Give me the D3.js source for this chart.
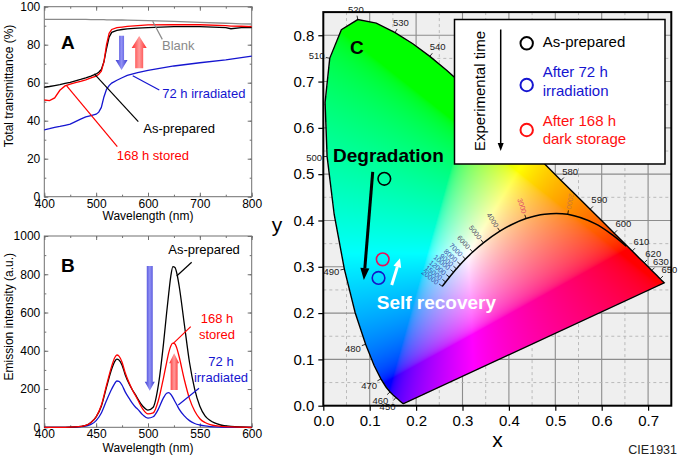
<!DOCTYPE html>
<html>
<head>
<meta charset="utf-8">
<script src="https://cdn.jsdelivr.net/npm/d3@7"></script>
<style>
html, body { margin: 0; padding: 0; background: #fff; }
svg { display: block; font-family: "Liberation Sans", Arial, sans-serif; }
</style>
</head>
<body>
<svg id="fig" width="680" height="458"></svg>
<script>
// ============================================================================
// DATA
// ============================================================================

// Panel A: total transmittance (%)
const transWave        = [400,410,420,430,440,450,460,470,480,490,500,505,510,515,520,525,530,540,550,560,580,600,650,700,750,760,780,800];
const transBlank       = [93.3,93.3,93.3,93.3,93.3,93.3,93.3,93.3,93.3,93.2,93.2,93.2,93.2,93.2,93.1,93.1,93.1,93.0,93.0,92.9,92.8,92.7,92.3,91.8,91.3,91.2,91.0,90.9];
const transAsPrepared  = [57.6,58.0,58.5,59.0,59.6,60.2,61.0,61.7,62.5,63.5,64.6,65.5,67.0,71.0,78.0,84.0,86.5,87.5,88.0,88.3,88.7,89.0,89.5,89.5,89.0,88.4,89.0,89.0];
const transStored      = [50.9,50.6,52.0,56.0,58.3,59.3,60.0,60.7,61.5,62.5,63.5,64.5,66.0,71.0,80.0,86.0,88.0,89.0,89.3,89.6,90.0,90.4,90.5,90.5,90.0,89.8,89.7,89.5];
const transIrradiated  = [35.2,35.8,36.5,37.0,37.6,38.2,39.5,40.8,42.0,42.7,43.4,44.5,47.0,52.5,56.5,58.5,59.8,61.3,62.6,63.8,65.3,66.5,68.8,70.5,72.0,72.4,73.2,74.0];
const transTicksX = [400, 500, 600, 700, 800];
const transTicksY = [0, 20, 40, 60, 80, 100];

// Panel B: emission intensity (a.u.)
const emisWave        = [400,420,430,440,445,450,455,460,465,468,470,472,475,478,482,485,488,490,495,500,505,510,515,518,520,522,524,526,528,530,535,540,545,550,555,560,570,580,600];
const emisAsPrepared  = [0,0,2,10,25,55,110,210,305,345,356,352,325,275,225,195,170,150,110,90,105,220,440,600,700,790,840,835,800,740,540,340,200,110,60,35,12,5,0];
const emisStored      = [0,0,2,10,25,55,115,220,320,365,378,372,340,285,230,195,165,145,95,70,75,140,260,340,390,425,440,435,410,370,250,150,85,45,25,14,5,2,0];
const emisIrradiated  = [0,0,1,6,15,35,75,140,200,230,242,240,220,185,150,125,105,95,65,48,55,95,155,178,181,172,155,135,115,95,60,35,20,12,7,4,1,0,0];
const emisTicksX = [400, 450, 500, 550, 600];
const emisTicksY = [0, 200, 400, 600, 800, 1000];

// Panel C: CIE 1931 spectral locus
const locusNm = [380,390,400,410,420,430,440,445,450,455,460,465,470,475,480,485,490,495,500,505,510,515,520,525,530,535,540,545,550,555,560,565,570,575,580,585,590,595,600,605,610,615,620,625,630,635,640,645,650,655,660,670,680,700];
const locusX  = [0.17411,0.17380,0.17330,0.17258,0.17141,0.16888,0.16441,0.16110,0.15664,0.15099,0.14396,0.13550,0.12412,0.10959,0.09121,0.06871,0.04539,0.02348,0.00817,0.00386,0.01387,0.03893,0.07430,0.11416,0.15472,0.19290,0.22962,0.26577,0.30160,0.33736,0.37310,0.40874,0.44406,0.47877,0.51249,0.54479,0.57515,0.60293,0.62704,0.64823,0.66576,0.68008,0.69150,0.70061,0.70792,0.71402,0.71903,0.72303,0.72599,0.72827,0.72997,0.73199,0.73342,0.73469];
const locusY  = [0.00496,0.00490,0.00480,0.00480,0.00510,0.00690,0.01089,0.01379,0.01771,0.02274,0.02970,0.03988,0.05780,0.08684,0.13270,0.20072,0.29498,0.41297,0.53842,0.65482,0.75019,0.81202,0.83380,0.82621,0.80586,0.78163,0.75433,0.72430,0.69231,0.65885,0.62445,0.58965,0.55472,0.52020,0.48659,0.45443,0.42423,0.39650,0.37249,0.35140,0.33401,0.31975,0.30849,0.29939,0.29208,0.28598,0.28097,0.27697,0.27401,0.27173,0.27003,0.26801,0.26658,0.26531];
const locusLabels = [450,460,470,480,490,500,510,520,530,540,580,590,600,610,620,630,650];

// Planckian locus (K)
const planckT = [20000,15000,12000,10000,9000,8000,7000,6000,5000,4000,3500,3000,2500,2000,1500,1200,1000];
const planckX = [0.2564,0.2637,0.2718,0.2807,0.2870,0.2952,0.3064,0.3220,0.3450,0.3805,0.4053,0.4369,0.4770,0.5267,0.5857,0.6251,0.6528];
const planckY = [0.2576,0.2672,0.2776,0.2883,0.2956,0.3048,0.3166,0.3318,0.3516,0.3768,0.3907,0.4041,0.4137,0.4133,0.3931,0.3674,0.3444];
const planckLabels = [20000,15000,12000,10000,9000,8000,7000,6000,5000,4000,3000,2000];

// Sample chromaticities
const sampleNames  = [["As-prepared"], ["After 72 h", "irradiation"], ["After 168 h", "dark storage"]];
const sampleX      = [0.1315, 0.119, 0.128];
const sampleY      = [0.490, 0.276, 0.316];
const sampleColors = ["#000000", "#1515c8", "#e8105a"];
const legendColors = ["#000000", "#1515d0", "#ff1010"];

const cTicksX = [0, 0.1, 0.2, 0.3, 0.4, 0.5, 0.6, 0.7];
const cTicksY = [0, 0.1, 0.2, 0.3, 0.4, 0.5, 0.6, 0.7, 0.8];

const BLUE = "#1515d0", RED = "#ff0000", GRAY = "#8a8a8a";

// ============================================================================
// SETUP
// ============================================================================

const svg  = d3.select("#fig");
const defs = svg.append("defs");

function hGrad(id, edge, mid) {
    const g = defs.append("linearGradient").attr("id", id)
        .attr("x1", 0).attr("x2", 1).attr("y1", 0).attr("y2", 0);
    g.append("stop").attr("offset", 0).attr("stop-color", edge);
    g.append("stop").attr("offset", 0.5).attr("stop-color", mid);
    g.append("stop").attr("offset", 1).attr("stop-color", edge);
}
hGrad("gBlue", "#3a3ad0", "#9090f4");
hGrad("gRed",  "#ff2a2a", "#ff9a9a");

function styleAxis(sel, size) {
    sel.select(".domain").remove();
    sel.selectAll("line").attr("stroke", "#707070");
    sel.selectAll("text").attr("fill", "#000").style("font-size", size + "px")
        .style("font-family", '"Liberation Sans", Arial, sans-serif');
}

// Spectrum frame with inward ticks on all four sides
function spectrumFrame(x, y, xMajor, yMajor, xStep, yStep) {
    const g = svg.append("g");
    const L = x.range()[0], R = x.range()[1], B = y.range()[0], T = y.range()[1];
    const xMinor = d3.range(x.domain()[0], x.domain()[1] + 1e-9, xStep / 2);
    const yMinor = d3.range(y.domain()[0], y.domain()[1] + 1e-9, yStep / 2);

    g.append("g").attr("transform", `translate(0,${B})`)
        .call(d3.axisBottom(x).tickValues(xMajor).tickSize(-4).tickPadding(2.5).tickFormat(d3.format("d")))
        .call(styleAxis, 12);
    g.append("g").attr("transform", `translate(${L},0)`)
        .call(d3.axisLeft(y).tickValues(yMajor).tickSize(-4).tickPadding(4).tickFormat(d3.format("d")))
        .call(styleAxis, 12);
    [[d3.axisBottom(x), B, xMinor], [d3.axisTop(x), T, xMajor], [d3.axisTop(x), T, xMinor]].forEach(([ax, pos, vals], i) => {
        g.append("g").attr("transform", `translate(0,${pos})`)
            .call(ax.tickValues(vals).tickSize(i === 1 ? -4 : -2).tickFormat(""))
            .call(styleAxis, 12);
    });
    [[d3.axisLeft(y), L, yMinor], [d3.axisRight(y), R, yMajor], [d3.axisRight(y), R, yMinor]].forEach(([ax, pos, vals], i) => {
        g.append("g").attr("transform", `translate(${pos},0)`)
            .call(ax.tickValues(vals).tickSize(i === 1 ? -4 : -2).tickFormat(""))
            .call(styleAxis, 12);
    });
    g.append("rect").attr("x", L).attr("y", T).attr("width", R - L).attr("height", B - T)
        .attr("fill", "none").attr("stroke", "#707070").attr("stroke-width", 1);
    return g;
}

function text(g, x, y, str, opts = {}) {
    return g.append("text").attr("x", x).attr("y", y)
        .attr("text-anchor", opts.anchor || "start")
        .attr("fill", opts.fill || "#000")
        .style("font-size", (opts.size || 13) + "px")
        .style("font-weight", opts.bold ? "bold" : "normal")
        .text(str);
}

function leader(g, x1, y1, x2, y2, color) {
    g.append("line").attr("x1", x1).attr("y1", y1).attr("x2", x2).attr("y2", y2)
        .attr("stroke", color).attr("stroke-width", 1.2);
}

// Block arrow (vertical), from tail y to tip y
function blockArrow(g, cx, yTail, yTip, shaftW, headW, headL, fill) {
    const dir = yTip > yTail ? 1 : -1;
    const yNeck = yTip - dir * headL;
    const p = d3.path();
    p.moveTo(cx - shaftW / 2, yTail);
    p.lineTo(cx + shaftW / 2, yTail);
    p.lineTo(cx + shaftW / 2, yNeck);
    p.lineTo(cx + headW / 2, yNeck);
    p.lineTo(cx, yTip);
    p.lineTo(cx - headW / 2, yNeck);
    p.lineTo(cx - shaftW / 2, yNeck);
    p.closePath();
    g.append("path").attr("d", p.toString()).attr("fill", fill);
}

// ============================================================================
// PANEL A — Total transmittance
// ============================================================================

const xA = d3.scaleLinear().domain([400, 800]).range([44.3, 251.7]);
const yA = d3.scaleLinear().domain([0, 100]).range([196.7, 6.7]);
const gA = spectrumFrame(xA, yA, transTicksX, transTicksY, 100, 20);

const lineA = vals => d3.line().x((d, i) => xA(transWave[i])).y(d => yA(d))(vals);
[[transBlank, GRAY], [transIrradiated, BLUE], [transAsPrepared, "#000"], [transStored, RED]].forEach(([vals, c]) => {
    gA.append("path").attr("d", lineA(vals)).attr("fill", "none")
        .attr("stroke", c).attr("stroke-width", 1.3);
});

text(gA, 61, 49.3, "A", { size: 19, bold: true });
blockArrow(gA, xA(549), yA(84.7), yA(66.7), 5, 12, 10, "url(#gBlue)");
blockArrow(gA, xA(583), yA(67.6), yA(84.6), 8, 15, 12, "url(#gRed)");

leader(gA, xA(609), yA(92.3), xA(627.6), yA(82.8), GRAY);
text(gA, xA(627), yA(77.2), "Blank", { fill: GRAY });
leader(gA, xA(570.5), yA(63.7), xA(621.8), yA(56.2), BLUE);
text(gA, xA(627.6), yA(51.9), "72 h irradiated", { fill: BLUE });
leader(gA, xA(496.4), yA(64.6), xA(581.3), yA(39.5), "#000");
text(gA, xA(591), yA(33.7), "As-prepared");
leader(gA, xA(443.2), yA(58.3), xA(540.8), yA(26.3), RED);
text(gA, xA(539.6), yA(19.3), "168 h stored", { fill: RED });

text(gA, (xA.range()[0] + xA.range()[1]) / 2, 219.5, "Wavelength (nm)", { anchor: "middle", size: 12 });
text(gA, 0, 0, "Total transmittance (%)", { anchor: "middle", size: 12 })
    .attr("transform", "translate(12.5,86) rotate(-90)");

// ============================================================================
// PANEL B — Emission intensity
// ============================================================================

const xB = d3.scaleLinear().domain([400, 600]).range([44.3, 251.7]);
const yB = d3.scaleLinear().domain([0, 1000]).range([427.3, 236]);
const gB = spectrumFrame(xB, yB, emisTicksX, emisTicksY, 50, 200);

const lineB = vals => d3.line().curve(d3.curveMonotoneX)
    .x((d, i) => xB(emisWave[i])).y(d => yB(d))(vals);
[[emisIrradiated, BLUE], [emisAsPrepared, "#000"], [emisStored, RED]].forEach(([vals, c]) => {
    gB.append("path").attr("d", lineB(vals)).attr("fill", "none")
        .attr("stroke", c).attr("stroke-width", 1.3);
});

text(gB, 61, 271.7, "B", { size: 19, bold: true });
blockArrow(gB, xB(501.7), yB(843), yB(191), 6, 10, 9, "url(#gBlue)");
blockArrow(gB, xB(525.2), yB(195), yB(387), 7, 10, 10, "url(#gRed)");

leader(gB, xB(527.7), yB(791), xB(542.1), yB(862.5), "#000");
text(gB, xB(519.6), yB(906), "As-prepared");
leader(gB, xB(524.4), yB(439), xB(541.2), yB(526), RED);
text(gB, xB(566.5), yB(543.6), "168 h", { fill: RED, anchor: "middle" });
text(gB, xB(566.5), yB(461.6), "stored", { fill: RED, anchor: "middle" });
leader(gB, xB(529.2), yB(116.6), xB(549.2), yB(203.9), BLUE);
text(gB, xB(570.4), yB(322), "72 h", { fill: BLUE, anchor: "middle" });
text(gB, xB(570.4), yB(238.4), "irradiated", { fill: BLUE, anchor: "middle" });

text(gB, (xB.range()[0] + xB.range()[1]) / 2, 452, "Wavelength (nm)", { anchor: "middle", size: 12 });
text(gB, 0, 0, "Emission intensity (a.u.)", { anchor: "middle", size: 12 })
    .attr("transform", "translate(12.5,316.7) rotate(-90)");

// ============================================================================
// PANEL C — CIE 1931 chromaticity diagram
// ============================================================================

const xC = d3.scaleLinear().domain([0, 0.75]).range([323.3, 671.3]);
const yC = d3.scaleLinear().domain([0, 0.85]).range([405.7, 12.1]);
const cL = xC(0), cR = xC(0.75), cB = yC(0), cT = yC(0.85);
const gC = svg.append("g");

defs.append("clipPath").attr("id", "clipC")
    .append("rect").attr("x", cL).attr("y", cT).attr("width", cR - cL).attr("height", cB - cT);

gC.append("rect").attr("x", cL).attr("y", cT).attr("width", cR - cL).attr("height", cB - cT)
    .attr("fill", "#efefef");

// grid: solid every 0.1, dashed every 0.05
const grid = gC.append("g").attr("clip-path", "url(#clipC)");
d3.range(1, 15).forEach(k => {
    const v = k * 0.05, solid = k % 2 === 0;
    grid.append("line").attr("x1", xC(v)).attr("x2", xC(v)).attr("y1", cT).attr("y2", cB)
        .attr("stroke", solid ? "#8c8c8c" : "#b4b4b4").attr("stroke-width", solid ? 1.1 : 0.9)
        .attr("stroke-dasharray", solid ? null : "3,3");
});
d3.range(1, 17).forEach(k => {
    const v = k * 0.05, solid = k % 2 === 0;
    grid.append("line").attr("x1", cL).attr("x2", cR).attr("y1", yC(v)).attr("y2", yC(v))
        .attr("stroke", solid ? "#8c8c8c" : "#b4b4b4").attr("stroke-width", solid ? 1.1 : 0.9)
        .attr("stroke-dasharray", solid ? null : "3,3");
});

// colour fill of the gamut, pixel by pixel through the scales
const locusPoly = locusX.map((v, i) => [v, locusY[i]]);
const cw = Math.round(cR - cL), chh = Math.round(cB - cT);
const canvas = document.createElement("canvas");
canvas.width = cw; canvas.height = chh;
const ctx = canvas.getContext("2d");
const img = ctx.createImageData(cw, chh);
const gam = v => v <= 0.0031308 ? 12.92 * v : 1.055 * Math.pow(v, 1 / 2.4) - 0.055;
for (let j = 0; j < chh; j++) {
    for (let i = 0; i < cw; i++) {
        const cx = xC.invert(cL + (i + 0.5) * (cR - cL) / cw);
        const cy = yC.invert(cT + (j + 0.5) * (cB - cT) / chh);
        if (cy <= 0 || !d3.polygonContains(locusPoly, [cx, cy])) continue;
        const X = cx / cy, Y = 1, Z = (1 - cx - cy) / cy;
        let r =  3.2406 * X - 1.5372 * Y - 0.4986 * Z;
        let g = -0.9689 * X + 1.8758 * Y + 0.0415 * Z;
        let b =  0.0557 * X - 0.2040 * Y + 1.0570 * Z;
        r = Math.max(0, r); g = Math.max(0, g); b = Math.max(0, b);
        const m = Math.max(r, g, b);
        const k = 4 * (j * cw + i);
        img.data[k]     = Math.round(255 * gam(r / m));
        img.data[k + 1] = Math.round(255 * gam(g / m));
        img.data[k + 2] = Math.round(255 * gam(b / m));
        img.data[k + 3] = 255;
    }
}
ctx.putImageData(img, 0, 0);
gC.append("image").attr("href", canvas.toDataURL())
    .attr("x", cL).attr("y", cT).attr("width", cR - cL).attr("height", cB - cT)
    .attr("preserveAspectRatio", "none");

// spectral locus outline (closed by the purple line)
gC.append("path")
    .attr("d", d3.line().x(d => xC(d[0])).y(d => yC(d[1]))(locusPoly) + "Z")
    .attr("fill", "none").attr("stroke", "#000").attr("stroke-width", 1.4);

// Planckian locus
gC.append("path")
    .attr("d", d3.line().curve(d3.curveCatmullRom).x((d, i) => xC(planckX[i])).y((d, i) => yC(planckY[i]))(planckT))
    .attr("fill", "none").attr("stroke", "#000").attr("stroke-width", 1.5);

const planckColor = t => t >= 7000 ? "#3b4fa8" : t >= 4000 ? "#50506a" : t === 3000 ? "#e04a6a" : "#c8783a";
planckLabels.forEach(t => {
    const i = planckT.indexOf(t);
    const a = Math.max(0, i - 1), b = Math.min(planckT.length - 1, i + 1);
    const tx = xC(planckX[b]) - xC(planckX[a]), ty = yC(planckY[b]) - yC(planckY[a]);
    const len = Math.hypot(tx, ty);
    let nx = ty / len, ny = -tx / len;
    if (ny > 0) { nx = -nx; ny = -ny; }
    const px = xC(planckX[i]), py = yC(planckY[i]);
    gC.append("line").attr("x1", px).attr("y1", py).attr("x2", px + nx * 4).attr("y2", py + ny * 4)
        .attr("stroke", "#000").attr("stroke-width", 0.8);
    const ang = Math.atan2(-ny, -nx) * 180 / Math.PI;
    gC.append("text")
        .attr("transform", `translate(${px + nx * 5.5},${py + ny * 5.5}) rotate(${ang})`)
        .attr("text-anchor", "end").attr("dy", "0.35em")
        .attr("fill", planckColor(t)).style("font-size", "7px")
        .text(t);
});

// wavelength ticks and labels on the spectral locus
const cxPix = xC(0.33), cyPix = yC(0.33);
locusLabels.forEach(nm => {
    const i = locusNm.indexOf(nm);
    const a = i - 1, b = i + 1;
    const tx = xC(locusX[b]) - xC(locusX[a]), ty = yC(locusY[b]) - yC(locusY[a]);
    const len = Math.hypot(tx, ty);
    let nx = ty / len, ny = -tx / len;
    const px = xC(locusX[i]), py = yC(locusY[i]);
    if (nx * (px - cxPix) + ny * (py - cyPix) < 0) { nx = -nx; ny = -ny; }
    gC.append("line").attr("x1", px).attr("y1", py).attr("x2", px + nx * 4).attr("y2", py + ny * 4)
        .attr("stroke", "#000").attr("stroke-width", 0.8);
    const w = 15.5, h = 7;
    const d = 5 + Math.abs(nx) * w / 2 + Math.abs(ny) * h / 2;
    gC.append("text").attr("x", px + nx * d).attr("y", py + ny * d)
        .attr("text-anchor", "middle").attr("dy", "0.35em")
        .attr("fill", "#222").style("font-size", "9.5px")
        .text(nm);
});

// frame and axes
gC.append("rect").attr("x", cL).attr("y", cT).attr("width", cR - cL).attr("height", cB - cT)
    .attr("fill", "none").attr("stroke", "#000").attr("stroke-width", 2);
gC.append("g").attr("transform", `translate(0,${cB})`)
    .call(d3.axisBottom(xC).tickValues(cTicksX).tickSize(5).tickPadding(4.5).tickFormat(d3.format(".1f")))
    .call(styleAxis, 15)
    .selectAll("line").attr("stroke", "#000").attr("stroke-width", 1.2);
gC.append("g").attr("transform", `translate(${cL},0)`)
    .call(d3.axisLeft(yC).tickValues(cTicksY).tickSize(5).tickPadding(4).tickFormat(d3.format(".1f")))
    .call(styleAxis, 15)
    .selectAll("line").attr("stroke", "#000").attr("stroke-width", 1.2);

text(gC, 497.5, 447, "x", { anchor: "middle", size: 21 });
text(gC, 277, 232, "y", { anchor: "middle", size: 21 });
text(gC, 677, 454, "CIE1931", { anchor: "end", size: 12.5, fill: "#222" });

// sample points
sampleX.forEach((v, i) => {
    gC.append("circle").attr("cx", xC(v)).attr("cy", yC(sampleY[i])).attr("r", 6.3)
        .attr("fill", "none").attr("stroke", sampleColors[i]).attr("stroke-width", 1.6);
});

// arrows
function lineArrow(g, x1, y1, x2, y2, color, w, headL, headW) {
    const ang = Math.atan2(y2 - y1, x2 - x1);
    const bx = x2 - Math.cos(ang) * headL, by = y2 - Math.sin(ang) * headL;
    g.append("line").attr("x1", x1).attr("y1", y1).attr("x2", bx).attr("y2", by)
        .attr("stroke", color).attr("stroke-width", w);
    const px = -Math.sin(ang) * headW / 2, py = Math.cos(ang) * headW / 2;
    g.append("path").attr("d", `M${x2},${y2}L${bx + px},${by + py}L${bx - px},${by - py}Z`).attr("fill", color);
}
lineArrow(gC, xC(0.1065), yC(0.505), xC(0.0874), yC(0.2715), "#000", 3, 12, 9);
lineArrow(gC, xC(0.1474), yC(0.2607), xC(0.1653), yC(0.3183), "#fff", 3, 9, 8);

text(gC, xC(0.0575), yC(0.759), "C", { size: 19, bold: true });
text(gC, xC(0.0209), yC(0.5253), "Degradation", { size: 19, bold: true });
text(gC, xC(0.1151), yC(0.2089), "Self recovery", { size: 19, bold: true, fill: "#fff" });

// legend box
const lg = svg.append("g");
lg.append("rect").attr("x", 454.5).attr("y", 19.5).attr("width", 210.5).attr("height", 144.5)
    .attr("fill", "#fff").attr("stroke", "#000").attr("stroke-width", 1.5);
text(lg, 0, 0, "Experimental time", { anchor: "middle", size: 15 })
    .attr("transform", "translate(484.5,91) rotate(-90)");
lineArrow(lg, 500.7, 29.5, 500.7, 151, "#000", 1.5, 8, 6);
const legendRows = [[43.3, [47]], [85, [77, 95.5]], [130, [126, 144]]];
sampleNames.forEach((lines, i) => {
    lg.append("circle").attr("cx", 526.7).attr("cy", legendRows[i][0]).attr("r", 6.2)
        .attr("fill", "none").attr("stroke", legendColors[i]).attr("stroke-width", 2);
    lines.forEach((s, k) => text(lg, 542.7, legendRows[i][1][k], s, { size: 15, fill: legendColors[i] }));
});
</script>
</body>
</html>
